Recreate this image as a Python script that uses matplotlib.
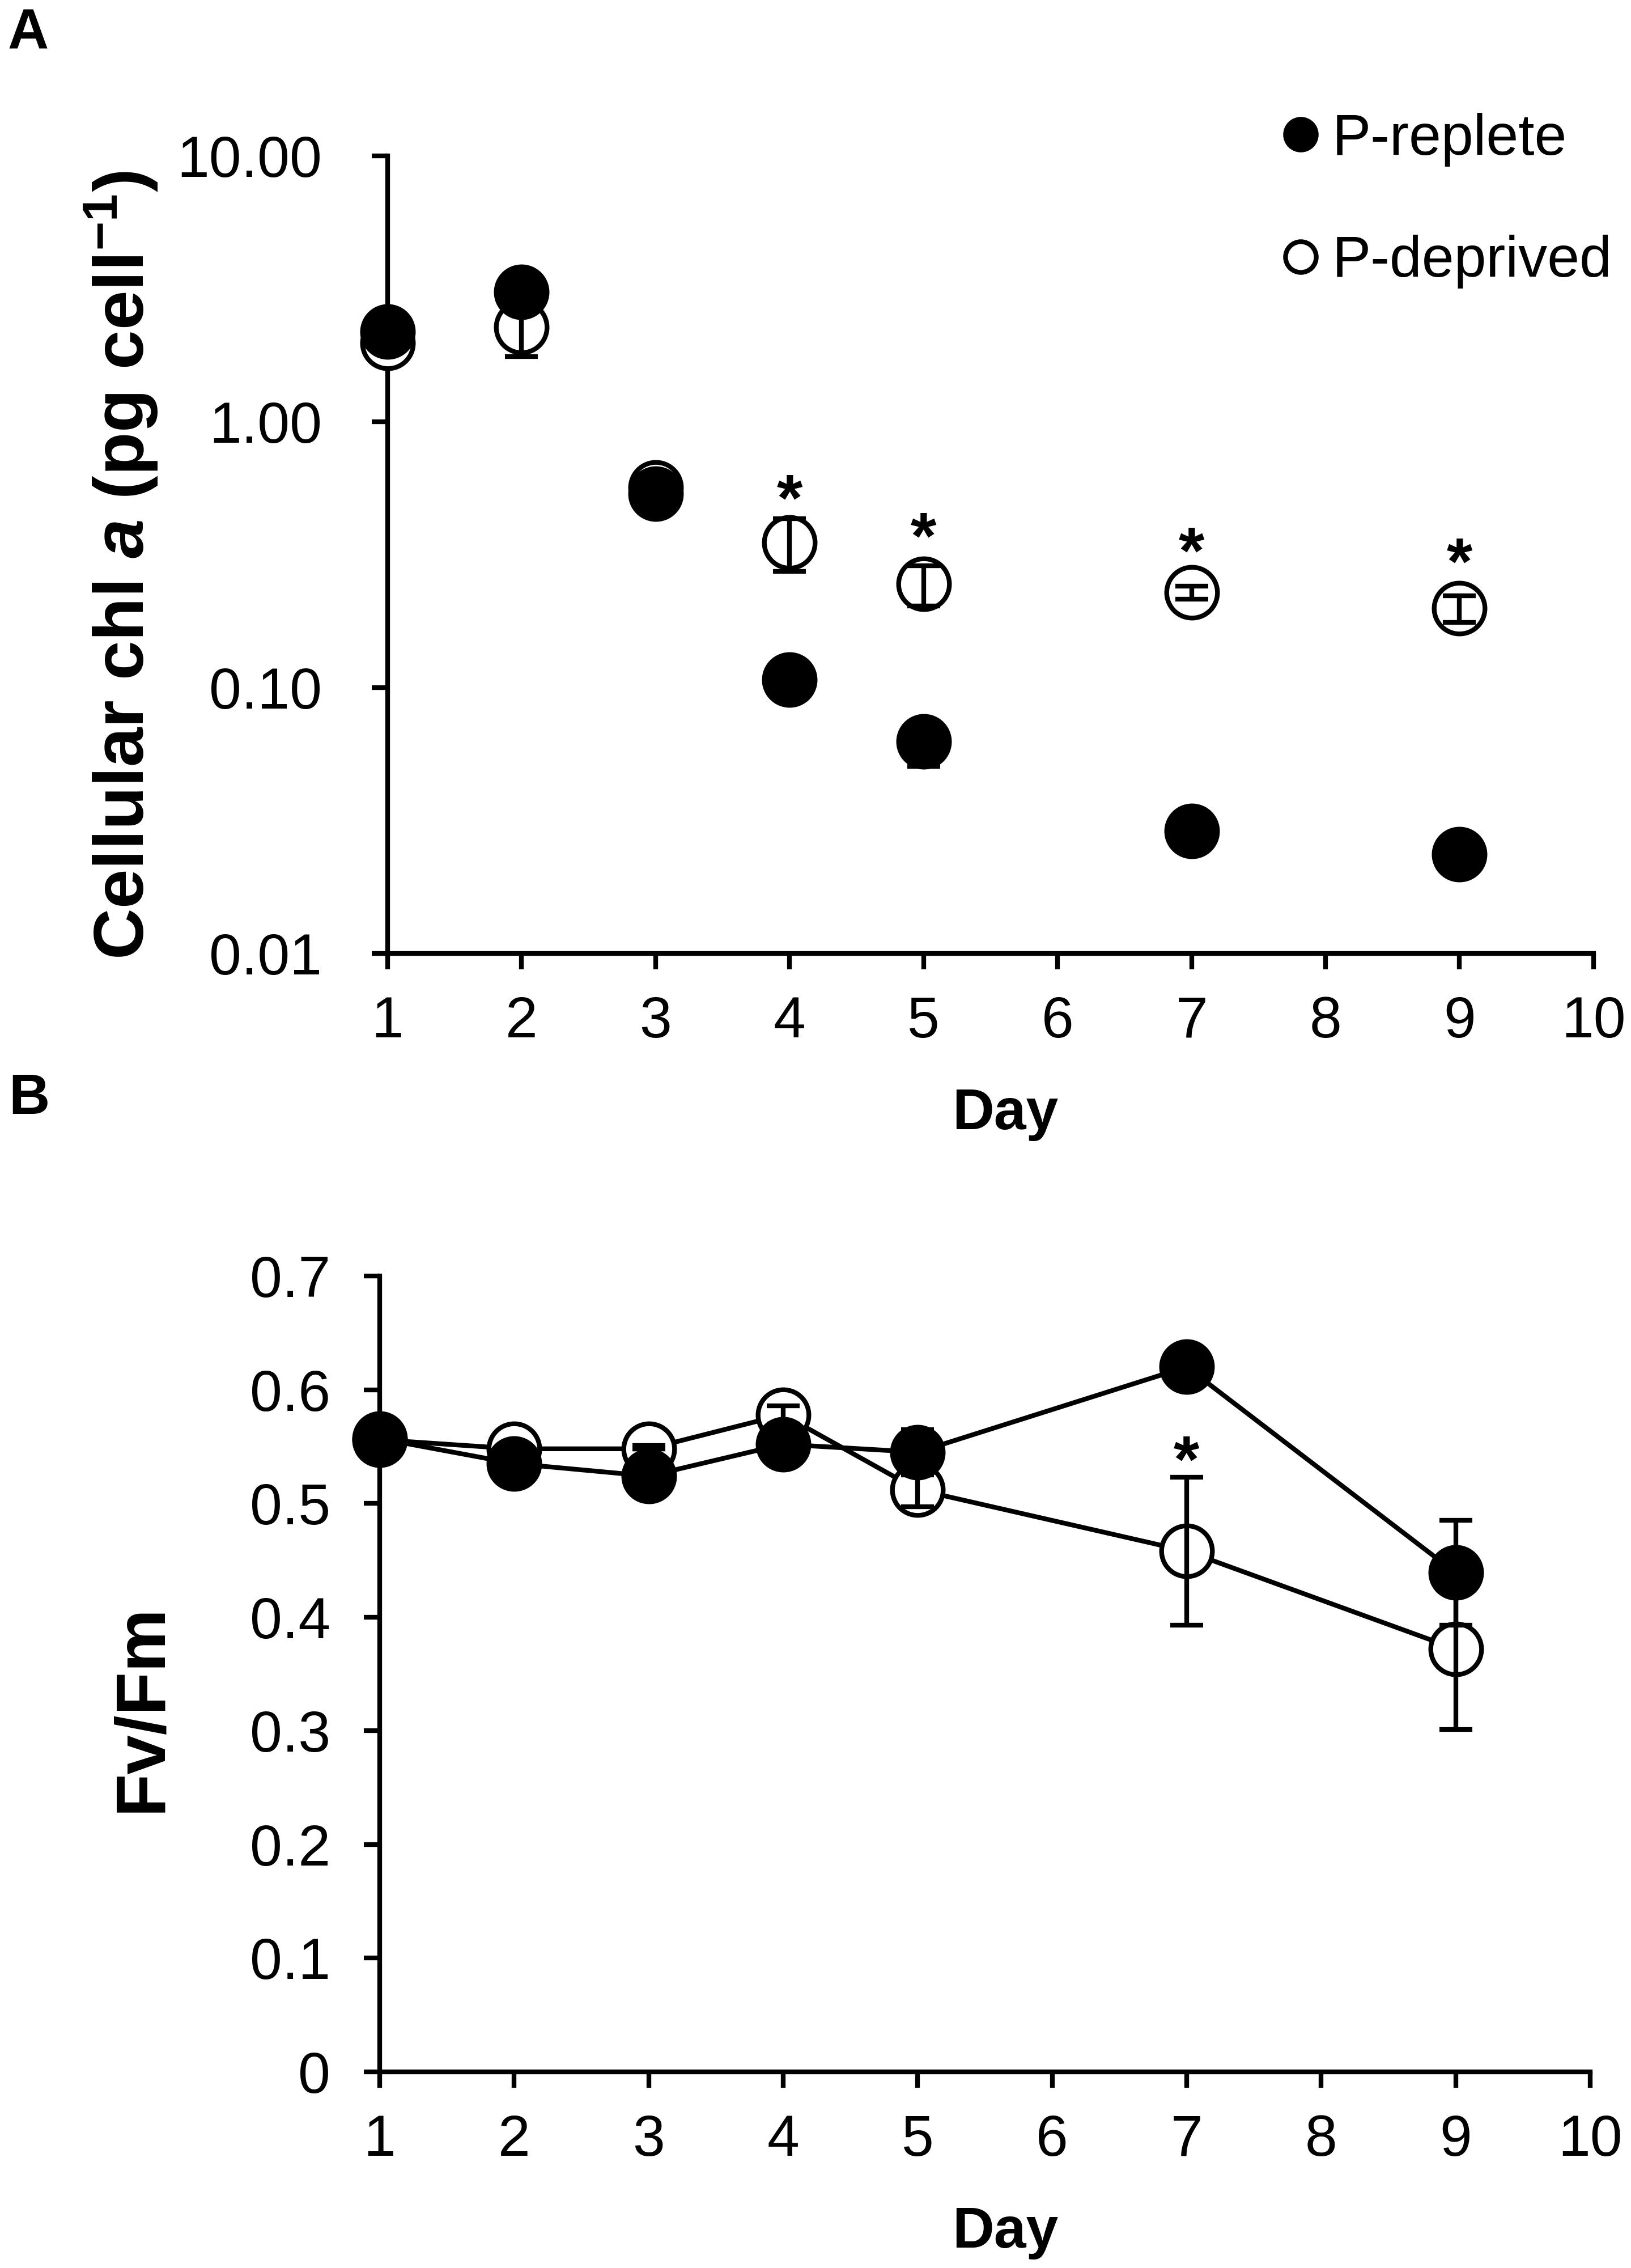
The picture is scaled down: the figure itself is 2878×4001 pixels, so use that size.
import numpy as np
import matplotlib
matplotlib.use("Agg")
import matplotlib.pyplot as plt
from matplotlib.lines import Line2D
from matplotlib.ticker import FixedLocator, FixedFormatter, NullLocator

plt.rcParams['font.family'] = ['Liberation Sans', 'DejaVu Sans']
plt.rcParams['mathtext.fontset'] = 'custom'
plt.rcParams['mathtext.rm'] = 'Liberation Sans:bold'
plt.rcParams['mathtext.it'] = 'Liberation Sans:bold:italic'
plt.rcParams['mathtext.bf'] = 'Liberation Sans:bold'

# ---- data ----
days = [1, 2, 3, 4, 5, 7, 9]

# Panel A: cellular chl a (pg cell-1)
chl_replete = [2.18, 3.08, 0.537, 0.107, 0.0626, 0.0289, 0.0236]
chl_replete_err = [0.0, 0.0, 0.0, 0.0, 0.012, 0.0, 0.0]
chl_deprived = [1.98, 2.27, 0.565, 0.352, 0.245, 0.228, 0.199]
chl_deprived_err = [0.0, 0.51, 0.0, 0.079, 0.042, 0.013, 0.023]
chl_star_days = [4, 5, 7, 9]
chl_star_y = [0.59, 0.423, 0.373, 0.340]

# Panel B: Fv/Fm
fvfm_replete = [0.557, 0.535, 0.524, 0.552, 0.545, 0.620, 0.439]
fvfm_replete_err_low = [0.0, 0.0, 0.0, 0.0, 0.020, 0.0, 0.046]
fvfm_replete_err_high = [0.0, 0.0, 0.027, 0.0, 0.020, 0.0, 0.046]
fvfm_deprived = [0.556, 0.548, 0.548, 0.578, 0.512, 0.458, 0.372]
fvfm_deprived_err = [0.0, 0.0, 0.0, 0.008, 0.015, 0.065, 0.071]
fvfm_star_days = [7]
fvfm_star_y = [0.552]

x_ticks = list(range(1, 11))
chl_ticks = [0.01, 0.1, 1, 10]
chl_tick_labels = ['0.01', '0.10', '1.00', '10.00']
fvfm_ticks = [0, 0.1, 0.2, 0.3, 0.4, 0.5, 0.6, 0.7]
fvfm_tick_labels = ['0', '0.1', '0.2', '0.3', '0.4', '0.5', '0.6', '0.7']

# ---- style ----
ms = 21.5
mew = 2.0
lw = 2.0
tick_fs = 24.5
label_fs = 30
star_fs = 28

fig = plt.figure(figsize=(2879 / 300, 4001 / 300), dpi=300)
axA = fig.add_axes([0.2376, 0.5796, 0.7391, 0.3517])
axB = fig.add_axes([0.2327, 0.0865, 0.7419, 0.3509])


def style_axis(ax, ypad):
    for side in ('top', 'right'):
        ax.spines[side].set_visible(False)
    for side in ('left', 'bottom'):
        ax.spines[side].set_linewidth(2.0)
    ax.tick_params(axis='both', which='major', direction='out', length=6.8,
                   width=2.0, labelsize=tick_fs, colors='black')
    ax.tick_params(axis='x', pad=11)
    ax.tick_params(axis='y', pad=ypad)
    ax.set_xlim(1, 10)
    ax.xaxis.set_major_locator(FixedLocator(x_ticks))


def draw_series(ax, y, err, filled, z, line):
    ls = '-' if line else 'none'
    cont = ax.errorbar(days, y, yerr=err, fmt='o', linestyle=ls, color='black',
                       linewidth=lw, markersize=ms, markeredgewidth=mew,
                       markeredgecolor='black',
                       markerfacecolor='black' if filled else 'white',
                       ecolor='black', elinewidth=2.0, capsize=7, capthick=2.4,
                       barsabove=True, zorder=z)
    for art in cont.get_children():
        art.set_clip_on(False)
    return cont


# ---- Panel A ----
style_axis(axA, 21)
axA.set_yscale('log')
axA.set_ylim(0.01, 10)
axA.yaxis.set_major_locator(FixedLocator(chl_ticks))
axA.yaxis.set_major_formatter(FixedFormatter(chl_tick_labels))
axA.yaxis.set_minor_locator(NullLocator())

draw_series(axA, chl_deprived, chl_deprived_err, False, 3, False)
draw_series(axA, chl_replete, chl_replete_err, True, 4, False)

for d, s in zip(chl_star_days, chl_star_y):
    axA.annotate('*', (d, s), xytext=(0, -16), textcoords='offset points',
                 ha='center', va='baseline', fontsize=star_fs, fontweight='bold')

axA.set_ylabel(r'Cellular chl $\it{a}$ (pg cell$^{-1}$)', fontsize=label_fs,
               fontweight='bold')
axA.yaxis.set_label_coords(-0.189, 0.487)
axA.set_xlabel('Day', fontsize=tick_fs, fontweight='bold')
axA.xaxis.set_label_coords(0.512, -0.168)

handles = [
    Line2D([], [], linestyle='none', marker='o', markersize=13, markeredgewidth=2,
           markeredgecolor='black', markerfacecolor='black'),
    Line2D([], [], linestyle='none', marker='o', markersize=13, markeredgewidth=2,
           markeredgecolor='black', markerfacecolor='white'),
]
axA.legend(handles, ['P-replete', 'P-deprived'], loc='upper left',
           bbox_to_anchor=(0.733, 1.054), frameon=False, fontsize=tick_fs,
           borderpad=0, borderaxespad=0, handlelength=1.0, handletextpad=0.05,
           labelspacing=1.18)

# ---- Panel B ----
style_axis(axB, 14)
axB.set_ylim(0, 0.7)
axB.yaxis.set_major_locator(FixedLocator(fvfm_ticks))
axB.yaxis.set_major_formatter(FixedFormatter(fvfm_tick_labels))

draw_series(axB, fvfm_deprived, fvfm_deprived_err, False, 3, True)
draw_series(axB, fvfm_replete, [fvfm_replete_err_low, fvfm_replete_err_high],
            True, 4, True)

for d, s in zip(fvfm_star_days, fvfm_star_y):
    axB.annotate('*', (d, s), xytext=(0, -16), textcoords='offset points',
                 ha='center', va='baseline', fontsize=star_fs, fontweight='bold')

axB.set_ylabel('Fv/Fm', fontsize=label_fs, fontweight='bold')
axB.yaxis.set_label_coords(-0.169, 0.457)
axB.set_xlabel('Day', fontsize=tick_fs, fontweight='bold')
axB.xaxis.set_label_coords(0.517, -0.168)

# panel letters
fig.text(14 / 2879, 1 - 87 / 4001, 'A', fontsize=24, fontweight='bold',
         ha='left', va='baseline')
fig.text(15 / 2879, 1 - 1965 / 4001, 'B', fontsize=24, fontweight='bold',
         ha='left', va='baseline')

fig.savefig('out.png', dpi=300)
